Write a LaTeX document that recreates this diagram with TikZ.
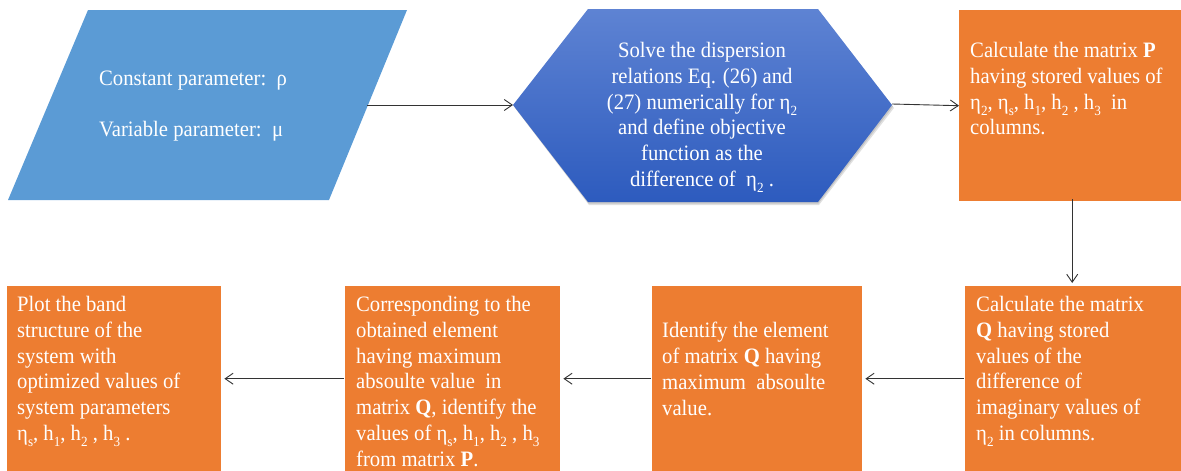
\documentclass[tikz,border=0pt]{standalone}
\usepackage{fontspec}
\setmainfont[FakeStretch=0.94]{Liberation Serif}
\usetikzlibrary{arrows.meta}
\definecolor{orangebox}{HTML}{ED7D31}
\definecolor{parablue}{HTML}{5B9BD5}
\definecolor{hextop}{HTML}{5E83D3}
\definecolor{hexbot}{HTML}{2D5BBE}
\definecolor{linegray}{HTML}{333333}
\newcommand{\sbx}[1]{\raisebox{-0.6ex}{\fontsize{14}{14}\selectfont #1}}
\begin{document}
\begin{tikzpicture}[x=1pt,y=-1pt,
  txt/.style={text=white, font=\fontsize{22}{25.8}\selectfont, align=left, inner sep=0pt, anchor=north west},
  obox/.style={fill=orangebox, draw=none, inner sep=0pt, anchor=north west},
  arr/.style={-{Straight Barb[length=8pt,width=11pt]}, draw=linegray, line width=0.9pt}]
\useasboundingbox (0,0) rectangle (1181,471);
% parallelogram
\fill[parablue] (88,10) -- (407,10) -- (329,200) -- (8,200) -- cycle;
\coordinate (paraR) at (367,105);
\node[txt] (paratxt) at (99,71) {Constant parameter:~~ρ\\[25pt]Variable parameter:~~μ};
% hexagon with soft shadow
\fill[black, opacity=0.12] (589,12) -- (819,12) -- (894,108) -- (819,205) -- (589,205) -- (515,108) -- cycle;
\fill[black, opacity=0.12] (588.5,10.5) -- (818.5,10.5) -- (893,106.5) -- (818.5,203.5) -- (588.5,203.5) -- (514,106.5) -- cycle;
\shade[top color=hextop, bottom color=hexbot] (588,9) -- (818,9) -- (892,105) -- (818,202) -- (588,202) -- (513,105) -- cycle;
\coordinate (hexL) at (513,105);
\coordinate (hexR) at (892,104);
\node[txt, align=center, anchor=north] (hextxt) at (702,42) {Solve the dispersion\\relations Eq. (26) and\\(27) numerically for η\sbx{2}\\and define objective\\function as the\\difference of ~η\sbx{2} .};
% top right box
\node[obox, minimum width=222pt, minimum height=191pt] (calcP) at (959,10) {};
\node[txt] (calcPtxt) at (970,42) {Calculate the matrix \textbf{P}\\having stored values of\\η\sbx{2}, η\sbx{s}, h\sbx{1}, h\sbx{2} , h\sbx{3} ~in\\columns.};
% bottom row
\node[obox, minimum width=216pt, minimum height=185pt] (calcQ) at (965,286) {};
\node[txt] (calcQtxt) at (976,296) {Calculate the matrix\\\textbf{Q} having stored\\values of the\\difference of\\imaginary values of\\η\sbx{2} in columns.};
\node[obox, minimum width=210pt, minimum height=185pt] (ident) at (652,286) {};
\node[txt] (identtxt) at (662,322) {Identify the element\\of matrix \textbf{Q} having\\maximum ~absoulte\\value.};
\node[obox, minimum width=215pt, minimum height=185pt] (corr) at (345,286) {};
\node[txt] (corrtxt) at (356,296) {Corresponding to the\\obtained element\\having maximum\\absoulte value ~in\\matrix \textbf{Q}, identify the\\values of η\sbx{s}, h\sbx{1}, h\sbx{2} , h\sbx{3}\\from matrix \textbf{P}.};
\node[obox, minimum width=214pt, minimum height=185pt] (plot) at (7,286) {};
\node[txt] (plottxt) at (17,296) {Plot the band\\structure of the\\system with\\optimized values of\\system parameters\\η\sbx{s}, h\sbx{1}, h\sbx{2} , h\sbx{3} .};
% connectors
\draw[arr] (paraR) -- (hexL);
\draw[arr] (hexR) -- (calcP.west);
\draw[arr] ([xshift=2pt,yshift=2pt]calcP.south) -- ([xshift=2pt,yshift=3pt]calcP.south |- calcQ.north);
\draw[arr] ([xshift=-1pt]calcQ.west) -- ([xshift=3pt]ident.east);
\draw[arr] ([xshift=-1pt]ident.west) -- ([xshift=3pt]corr.east);
\draw[arr] ([xshift=-1pt]corr.west) -- ([xshift=3pt]plot.east);
\end{tikzpicture}
\end{document}
